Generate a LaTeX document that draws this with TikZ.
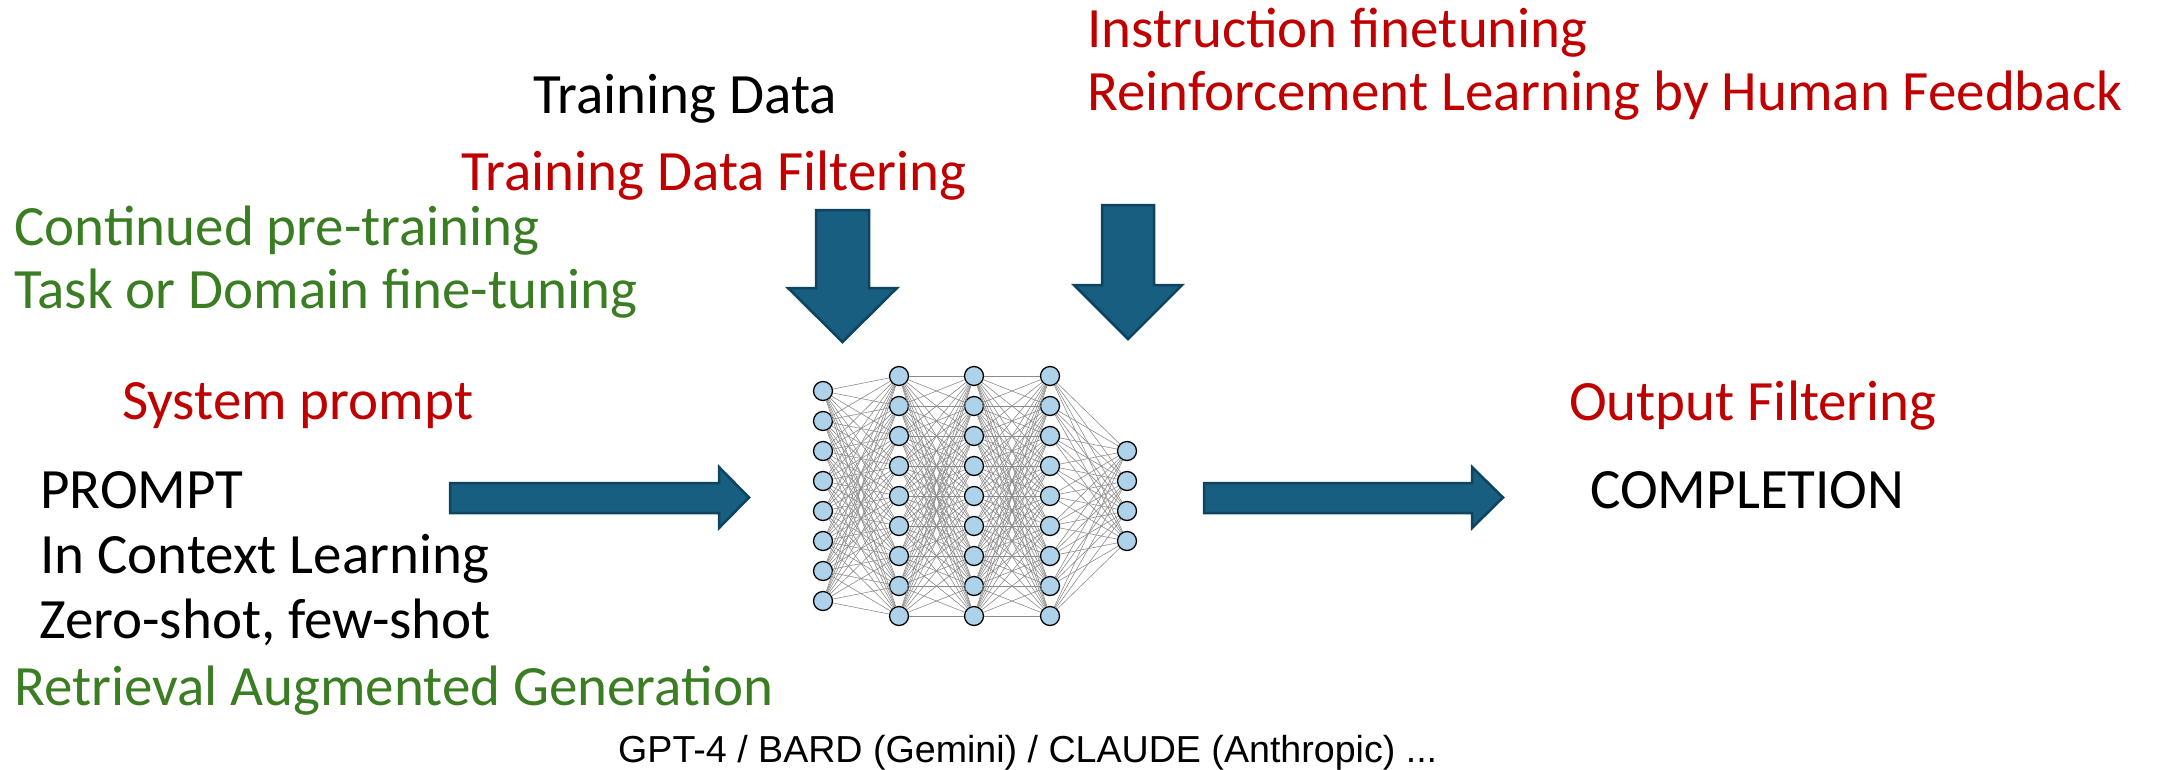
\documentclass[tikz,border=0pt]{standalone}
\usepackage{fontspec}
\setmainfont{Carlito}
\newfontfamily\arialfont{Liberation Sans}
\definecolor{txtred}{RGB}{192,0,0}
\definecolor{txtgreen}{RGB}{59,125,35}
\definecolor{arrfill}{RGB}{23,94,128}
\definecolor{arrdraw}{RGB}{14,68,96}
\definecolor{neuronfill}{RGB}{174,210,234}
\begin{document}
\begin{tikzpicture}[x=1pt,y=-1pt,
  lbl/.style={anchor=base west, inner sep=0pt, font=\fontsize{57}{65}\selectfont},
  neuron/.style={circle, draw=black, line width=1.3pt, fill=neuronfill, minimum size=19pt, inner sep=0pt},
  synapse/.style={draw=black!45, line width=0.6pt},
  blockarrow/.style={fill=arrfill, draw=arrdraw, line width=2.5pt, line join=miter}]
\useasboundingbox (0,0) rectangle (2160,769);

% texts
\node[lbl, txtred] (instr) at (1087,47) {Instruction finetuning};
\node[lbl, txtred] (rlhf) at (1087,110) {Reinforcement Learning by Human Feedback};
\node[lbl] (tdata) at (533,113) {Training Data};
\node[lbl, txtred] (tdf) at (461,190) {Training Data Filtering};
\node[lbl, txtgreen] (cont) at (14,245) {Continued pre-training};
\node[lbl, txtgreen] (task) at (14,308) {Task or Domain fine-tuning};
\node[lbl, txtred] (sys) at (122,419) {System prompt};
\node[lbl] (prompt) at (40,508) {PROMPT};
\node[lbl] (icl) at (40,573) {In Context Learning};
\node[lbl] (zero) at (39,638) {Zero-shot, few-shot};
\node[lbl, txtgreen] (rag) at (14,705) {Retrieval Augmented Generation};
\node[anchor=base west, inner sep=0pt, font=\arialfont\fontsize{37.6}{44}\selectfont] (models) at (618,762) {GPT-4 / BARD (Gemini) / CLAUDE (Anthropic) ...};
\node[lbl, txtred] (outf) at (1569,420) {Output Filtering};
\node[lbl] (compl) at (1590,508) {COMPLETION};

% network
\foreach \i in {0,...,7} \node[neuron] (a\i) at (823,{391+30*\i}) {};
\foreach \i in {0,...,8} {
  \node[neuron] (b\i) at (899,{376+30*\i}) {};
  \node[neuron] (c\i) at (974,{376+30*\i}) {};
  \node[neuron] (d\i) at (1050,{376+30*\i}) {};
}
\foreach \i in {0,...,3} \node[neuron] (e\i) at (1127,{451+30*\i}) {};
\foreach \i in {0,...,7} \foreach \j in {0,...,8} \draw[synapse] (a\i) -- (b\j);
\foreach \i in {0,...,8} \foreach \j in {0,...,8} {
  \draw[synapse] (b\i) -- (c\j);
  \draw[synapse] (c\i) -- (d\j);
}
\foreach \i in {0,...,8} \foreach \j in {0,...,3} \draw[synapse] (d\i) -- (e\j);

% block arrows
\draw[blockarrow] (816,210) -- (869,210) -- (869,288) -- (897,288) -- (842.5,342) -- (788,288) -- (816,288) -- cycle;
\draw[blockarrow] (1102,205) -- (1154,205) -- (1154,285) -- (1182,285) -- (1128,339) -- (1074,285) -- (1102,285) -- cycle;
\draw[blockarrow] (450,483) -- (719,483) -- (719,467) -- (749,497.5) -- (719,528) -- (719,513) -- (450,513) -- cycle;
\draw[blockarrow] (1204,483) -- (1472,483) -- (1472,467) -- (1503,497.5) -- (1472,528) -- (1472,513) -- (1204,513) -- cycle;
\end{tikzpicture}
\end{document}
